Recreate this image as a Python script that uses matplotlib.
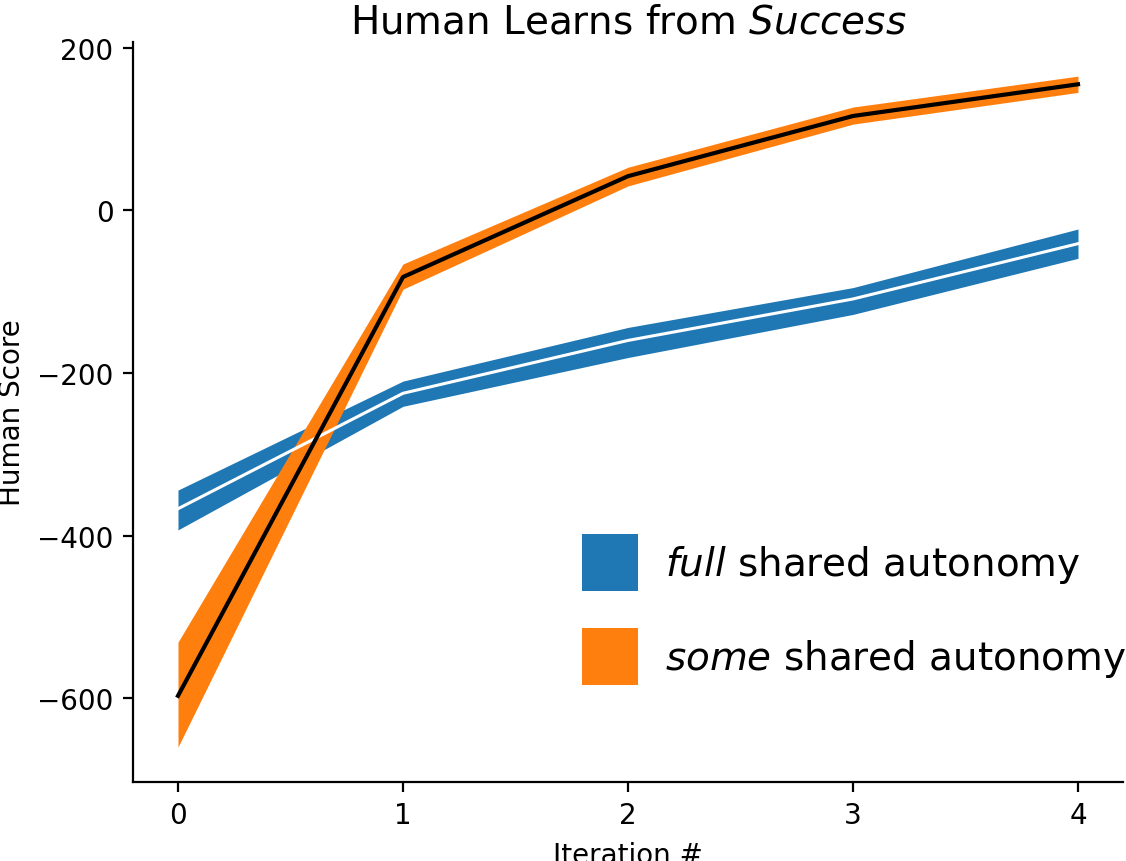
import matplotlib
matplotlib.use("Agg")
import matplotlib.pyplot as plt
from matplotlib.patches import Patch
import numpy as np

iterations = [0, 1, 2, 3, 4]

full_mean = [-367, -225, -160, -109, -41]
full_upper = [-344, -210, -144, -95, -23]
full_lower = [-393, -241, -181, -128, -59]

some_mean = [-597, -82, 42, 116, 155]
some_upper = [-531, -66, 53, 127, 165]
some_lower = [-660, -97, 30, 106, 145]

labels = [r"$\it{full}$ shared autonomy", r"$\it{some}$ shared autonomy"]
title = r"Human Learns from $\it{Success}$"

blue = "#1f77b4"
orange = "#ff7f0e"

fig = plt.figure(figsize=(5.63, 4.31), dpi=200)
ax = fig.add_axes([133 / 1126, 79 / 862, 990 / 1126, 740 / 862])

ax.fill_between(iterations, full_lower, full_upper, color=blue, linewidth=0)
ax.plot(iterations, full_mean, color="white", lw=1.1)
ax.fill_between(iterations, some_lower, some_upper, color=orange, linewidth=0)
ax.plot(iterations, some_mean, color="black", lw=1.5)

ax.set_xlim(-0.2, 4.2)
ax.set_ylim(-703, 207)
ax.set_xticks(iterations)
ax.set_yticks([-600, -400, -200, 0, 200])
ax.spines["top"].set_visible(False)
ax.spines["right"].set_visible(False)
ax.set_xlabel("Iteration #")
ax.set_ylabel("Human Score")
ax.set_title(title, fontsize=14, pad=3.6)

handles = [Patch(facecolor=blue, edgecolor="none"), Patch(facecolor=orange, edgecolor="none")]
fs = 14
ax.legend(handles, labels, fontsize=fs, frameon=False,
          handlelength=1.44, handleheight=1.87, handletextpad=0.7,
          labelspacing=0.95, borderpad=0, borderaxespad=0,
          loc="upper left", bbox_to_anchor=(582 / 1126, 1 - 535 / 862),
          bbox_transform=fig.transFigure)

fig.savefig("out.png", dpi=200)
